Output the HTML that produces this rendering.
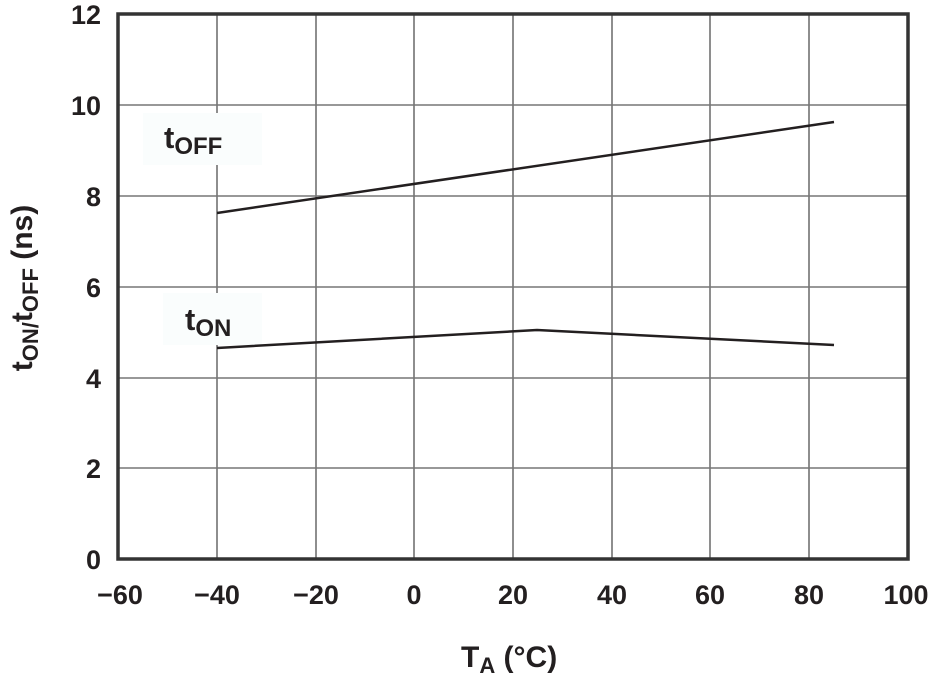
<!DOCTYPE html>
<html><head><style>body{margin:0;background:#fff}svg{display:block}</style></head><body>
<svg width="934" height="674" xmlns="http://www.w3.org/2000/svg" font-family="Liberation Sans, sans-serif" font-weight="bold" fill="#231f20">
<g stroke="#444" stroke-width="1.2">
<line x1="217" y1="14" x2="217" y2="559"/><line x1="316" y1="14" x2="316" y2="559"/><line x1="414" y1="14" x2="414" y2="559"/><line x1="513" y1="14" x2="513" y2="559"/><line x1="612" y1="14" x2="612" y2="559"/><line x1="710" y1="14" x2="710" y2="559"/><line x1="809" y1="14" x2="809" y2="559"/>
</g>
<g stroke="#777" stroke-width="1.5">
<line x1="118" y1="105" x2="908" y2="105"/><line x1="118" y1="196" x2="908" y2="196"/><line x1="118" y1="287" x2="908" y2="287"/><line x1="118" y1="378" x2="908" y2="378"/><line x1="118" y1="468" x2="908" y2="468"/>
</g>
<rect x="143" y="113" width="119" height="52" fill="#fafdfd"/>
<rect x="163" y="293" width="99" height="52" fill="#fafdfd"/>
<rect x="118" y="14" width="790" height="545" fill="none" stroke="#333" stroke-width="3.5"/>
<polyline points="217,348 537,330 834,345" fill="none" stroke="#231f20" stroke-width="2.5"/>
<polyline points="217,213 834,122" fill="none" stroke="#231f20" stroke-width="2.5"/>
<text x="164" y="148" font-size="31">t<tspan font-size="24" dy="6">OFF</tspan></text>
<text x="185" y="330" font-size="31">t<tspan font-size="24" dy="6">ON</tspan></text>
<g font-size="27" text-anchor="end">
<text x="101" y="24">12</text><text x="101" y="115">10</text><text x="101" y="206">8</text><text x="101" y="297">6</text><text x="101" y="388">4</text><text x="101" y="478">2</text><text x="101" y="569">0</text>
</g>
<g font-size="27" text-anchor="middle">
<text x="120" y="604">−60</text><text x="217" y="604">−40</text><text x="316" y="604">−20</text><text x="414" y="604">0</text><text x="513" y="604">20</text><text x="612" y="604">40</text><text x="710" y="604">60</text><text x="809" y="604">80</text><text x="906" y="604">100</text>
</g>
<text x="461" y="667" font-size="30">T<tspan font-size="22" dy="6">A</tspan><tspan dy="-6"> (°C)</tspan></text>
<text transform="translate(32,288) rotate(-90)" font-size="30" text-anchor="middle">t<tspan font-size="22" dy="6">ON/</tspan><tspan dy="-6">t</tspan><tspan font-size="22" dy="6">OFF</tspan><tspan dy="-6"> (ns)</tspan></text>
</svg>
</body></html>
